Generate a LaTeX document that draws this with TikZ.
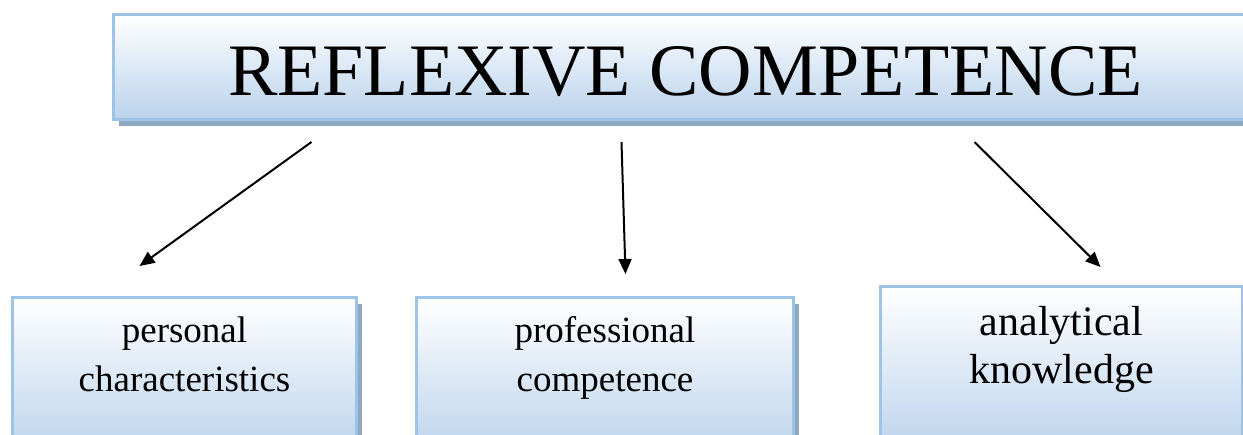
\documentclass[tikz,border=0pt]{standalone}
\usepackage{fontspec}
\setmainfont{Liberation Serif}
\usetikzlibrary{arrows.meta,shadows}
\definecolor{boxline}{HTML}{9DC3E6}
\definecolor{boxfill}{HTML}{B9D2EC}
\definecolor{boxshade}{HTML}{8EA8C0}

\begin{document}
\begin{tikzpicture}[x=1pt, y=-1pt,
    panel/.style={draw=boxline, line width=3pt, top color=white, bottom color=boxfill,
      drop shadow={shadow xshift=5pt, shadow yshift=-6pt, fill=boxshade, opacity=1},
      inner sep=0pt, anchor=north west},
    caption/.style={anchor=north, inner sep=0pt, align=center},
    arr/.style={line width=2pt, -{Triangle[length=15pt, width=13pt]}}]
    \useasboundingbox (0,0) rectangle (1243,434);
    \clip (0,0) rectangle (1243,434);

    \node[panel, minimum width=1144pt, minimum height=105pt, text height=58pt,
      font=\fontsize{74}{80}\selectfont] (title) at (112,13) {REFLEXIVE COMPETENCE};

    \node[panel, minimum width=344pt, minimum height=160pt] (pers) at (11,296) {};
    \node[panel, minimum width=377pt, minimum height=160pt] (prof) at (415,296) {};
    \node[panel, minimum width=362pt, minimum height=170pt] (anal) at (879,285) {};

    \node[caption, font=\fontsize{37}{49}\selectfont] (perstext) at ([yshift=-11.7pt]pers.north) {\strut personal\\characteristics};
    \node[caption, font=\fontsize{37}{49}\selectfont] (proftext) at ([yshift=-11.7pt]prof.north) {\strut professional\\competence};
    \node[caption, font=\fontsize{42}{48}\selectfont] (analtext) at ([yshift=-16.4pt]anal.north) {\strut analytical\\knowledge};

    \draw[arr] ([xshift=-374pt, yshift=-21pt]title.south) -- ([xshift=-45pt, yshift=30pt]pers.north);
    \draw[arr] ([xshift=-64pt, yshift=-21pt]title.south) -- ([xshift=20.5pt, yshift=22pt]prof.north);
    \draw[arr] ([xshift=289pt, yshift=-21pt]title.south) -- ([xshift=39pt, yshift=18pt]anal.north);
\end{tikzpicture}
\end{document}
